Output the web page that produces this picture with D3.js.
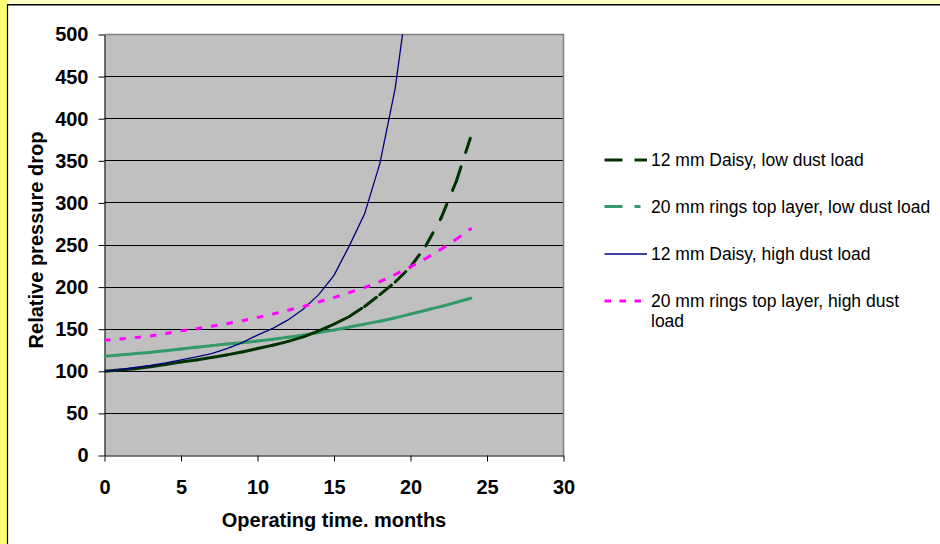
<!DOCTYPE html>
<html><head><meta charset="utf-8">
<script src="https://cdn.jsdelivr.net/npm/d3@7"></script>
<style>
body{margin:0;background:#fff;}
svg{display:block;font-family:Arial,"Liberation Sans",sans-serif;}
</style>
</head><body>
<svg id="c" width="940" height="544"></svg>
<script>
// ---- data ----
const months = [0,1,2,3,4,5,6,7,8,9,10,11,12,13,14,15,16,17,18,19,20,21,22,23,24];
const daisyLow  = [100,101.5,103,105.5,108,111,113.5,116.5,119.5,123,127,131,135.5,141,148,156,165,177,191,206,224,249,282,326,382];
const ringsLow  = [118,119.5,121,122.5,124.5,126.5,128.5,130.5,132.5,134,136,138,140.5,143,146,149,152.5,156,159.5,163.5,168,172.5,177,182,187];
const monthsHigh = [0,1,2,3,4,5,6,7,8,9,10,11,12,13,14,15,16,17,18,19,20];
const daisyHigh = [100,102,104.5,107,110,113.5,117,121,127,134,143,151,161,174,191,214,249,287,347,436,570];
const ringsHigh = [137,138.5,140,142,145,148,150.5,153.5,156.5,160,164,168,172.5,177,182.5,187.5,193.5,199.5,206.5,215,224,234,245,257,270];
const xTicks = [0,5,10,15,20,25,30];
const yTicks = [0,50,100,150,200,250,300,350,400,450,500];
const seriesNames = ["12 mm Daisy, low dust load","20 mm rings top layer, low dust load","12 mm Daisy, high dust load","20 mm rings top layer, high dust load"];
const xTitle = "Operating time. months";
const yTitle = "Relative pressure drop";

// ---- layout ----
const svg = d3.select("#c");
const L = 104.5, R = 563.5, T = 34.5, B = 455.5;
const x = d3.scaleLinear().domain([0,30]).range([L,R]);
const y = d3.scaleLinear().domain([0,500]).range([B,T]);
const FONT = "Arial, 'Liberation Sans', sans-serif";

// background frame
svg.append("rect").attr("x",0).attr("y",0).attr("width",940).attr("height",544).attr("fill","#fff");
svg.append("rect").attr("x",0).attr("y",0).attr("width",940).attr("height",4).attr("fill","#FFFFC4");
svg.append("rect").attr("x",0).attr("y",0).attr("width",7).attr("height",544).attr("fill","#FFFF78");
svg.append("line").attr("x1",7).attr("x2",940).attr("y1",4.75).attr("y2",4.75).attr("stroke","#000").attr("stroke-width",1.5);
svg.append("line").attr("x1",7.5).attr("x2",7.5).attr("y1",4).attr("y2",544).attr("stroke","#000").attr("stroke-width",1.2);

// plot area
svg.append("rect").attr("x",L).attr("y",T).attr("width",R-L).attr("height",B-T).attr("fill","#C0C0C0");
svg.append("defs").append("clipPath").attr("id","clip")
  .append("rect").attr("x",L).attr("y",T).attr("width",R-L).attr("height",B-T);

// gridlines
svg.append("g").selectAll("line").data(yTicks.filter(d=>d>0 && d<500)).join("line")
  .attr("x1",L).attr("x2",R)
  .attr("y1",d=>Math.round(y(d)-0.5)+0.5).attr("y2",d=>Math.round(y(d)-0.5)+0.5)
  .attr("stroke","#000").attr("stroke-width",1);

// border top/right
svg.append("path").attr("d",`M${L},${T}H${R}V${B}`).attr("fill","none").attr("stroke","#808080").attr("stroke-width",1.5);

// axes
const xAxis = d3.axisBottom(x).tickValues(xTicks).tickSizeInner(6).tickSizeOuter(0).tickPadding(18);
const gx = svg.append("g").attr("transform",`translate(0,${B})`).call(xAxis);
const yAxis = d3.axisLeft(y).tickValues(yTicks).tickSizeInner(6).tickSizeOuter(0).tickPadding(10);
const gy = svg.append("g").attr("transform",`translate(${L},0)`).call(yAxis);
[gx,gy].forEach(g=>{
  g.attr("font-size",20).attr("font-family",FONT);
  g.select(".domain").attr("stroke","#000").attr("stroke-width",1);
  g.selectAll(".tick line").attr("stroke","#000");
  g.selectAll(".tick text").attr("fill","#000")
   .style("font-size","20px").style("font-weight","bold").style("font-family",FONT);
});

// titles
svg.append("text").attr("x",(L+R)/2).attr("y",527).attr("text-anchor","middle")
  .style("font-size","20px").style("font-weight","bold").text(xTitle);
svg.append("text").attr("transform",`translate(43,240) rotate(-90)`).attr("text-anchor","middle")
  .style("font-size","20px").style("font-weight","bold").text(yTitle);

// series drawing: dash pattern restarts on every segment
const plot = svg.append("g").attr("clip-path","url(#clip)");
function segments(xs, vs){
  const s=[]; for(let i=0;i<xs.length-1;i++) s.push([xs[i],vs[i],xs[i+1],vs[i+1]]); return s;
}
function drawSegs(xs, vs, color, width, dash, cap){
  plot.append("g").selectAll("line").data(segments(xs,vs)).join("line")
    .attr("x1",d=>x(d[0])).attr("y1",d=>y(d[1])).attr("x2",d=>x(d[2])).attr("y2",d=>y(d[3]))
    .attr("stroke",color).attr("stroke-width",width).attr("stroke-dasharray",dash)
    .attr("stroke-linecap",cap);
}
const colors = ["#003300","#339966","#000080","#FF00FF"];
drawSegs(months, ringsLow, colors[1], 3, "15,15,3,15", "round");
drawSegs(months, daisyLow, colors[0], 3, "15,15", "round");
plot.append("path").datum(monthsHigh.map((m,i)=>[m,daisyHigh[i]]))
  .attr("d", d3.line().x(d=>x(d[0])).y(d=>y(d[1])))
  .attr("fill","none").attr("stroke",colors[2]).attr("stroke-width",1.3);
drawSegs(months, ringsHigh, colors[3], 3, "6,9", "butt");

// legend
const legY = [160,206.5,254,301];
const legDash = ["18,12","18,12,6,12",null,"6.5,8.5"];
const legW = [3,3,1.3,3];
const lg = svg.append("g");
seriesNames.forEach((name,i)=>{
  const ln = lg.append("line").attr("x1",604.5).attr("x2",647).attr("y1",legY[i]).attr("y2",legY[i])
    .attr("stroke",colors[i]).attr("stroke-width",legW[i]);
  if(legDash[i]) ln.attr("stroke-dasharray",legDash[i]);
  const t = lg.append("text").attr("x",651).attr("y",legY[i]+6).style("font-size","17.5px").attr("fill","#000");
  if(i===3){
    t.append("tspan").attr("x",651).text("20 mm rings top layer, high dust");
    t.append("tspan").attr("x",651).attr("dy",20).text("load");
  } else t.text(name);
});
</script>
</body></html>
